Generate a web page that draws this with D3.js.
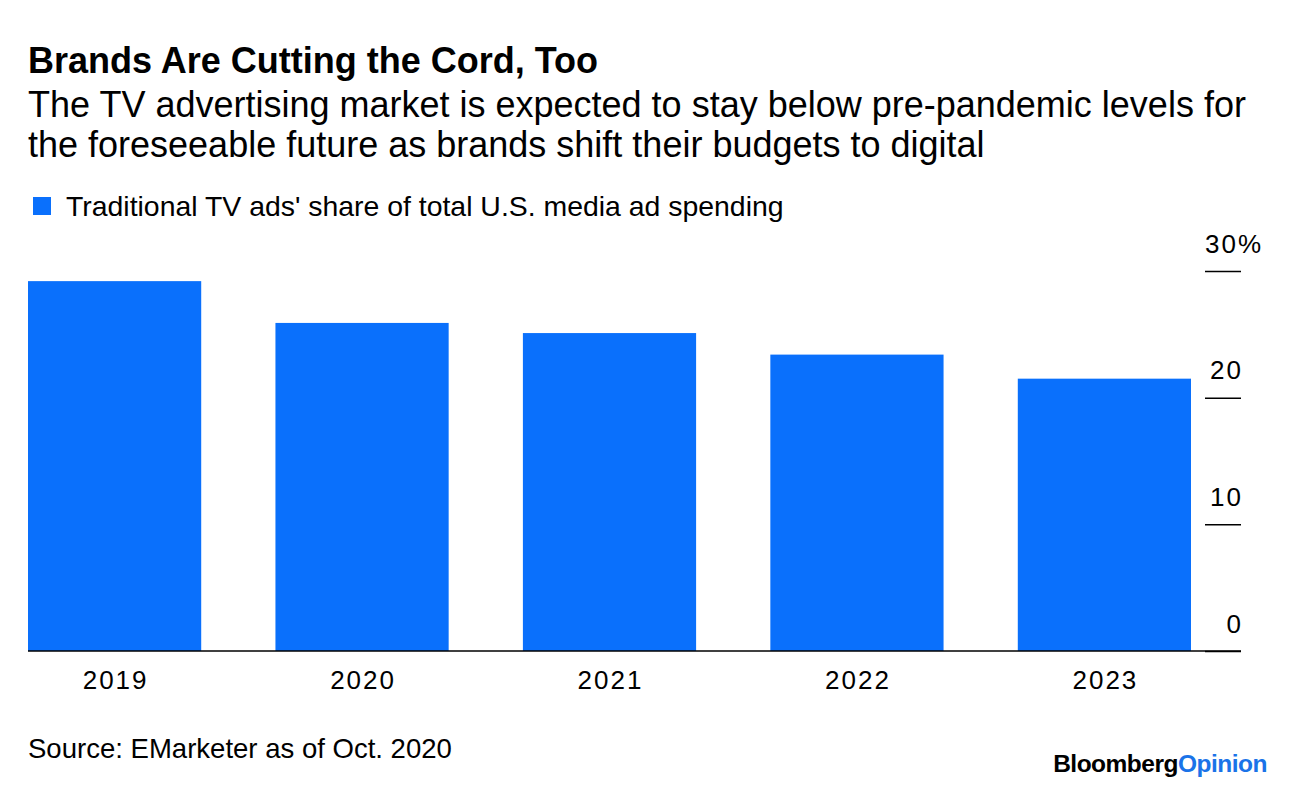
<!DOCTYPE html>
<html><head><meta charset="utf-8">
<script src="https://cdn.jsdelivr.net/npm/d3@7"></script>
<style>
html,body{margin:0;padding:0;background:#fff;}
svg{display:block;font-family:"Liberation Sans",Arial,Helvetica,sans-serif;}
</style></head>
<body><svg id="chart" width="1296" height="790"></svg>
<script>
const categories = ["2019","2020","2021","2022","2023"];
const values = [29.2, 25.9, 25.1, 23.4, 21.5];
const yTicks = [0, 10, 20, 30];
const titleText = "Brands Are Cutting the Cord, Too";
const subtitleLines = ["The TV advertising market is expected to stay below pre-pandemic levels for",
                       "the foreseeable future as brands shift their budgets to digital"];
const legendText = "Traditional TV ads' share of total U.S. media ad spending";
const sourceText = "Source: EMarketer as of Oct. 2020";

const blue = "#0a70fc";
const svg = d3.select("#chart");

function fitText(sel, w){
  const n = sel.node(); const l = n.getComputedTextLength();
  const fs = parseFloat(sel.attr("font-size"));
  sel.attr("font-size", (fs * w / l).toFixed(2));
}

const t = svg.append("text").attr("x",28).attr("y",73).attr("font-size",30).attr("font-weight","bold").attr("fill","#000").text(titleText);
fitText(t, 570);
const sub = subtitleLines.map((s,i)=> svg.append("text").attr("x",28).attr("y",117+i*40).attr("font-size",30).attr("fill","#000").text(s));
fitText(sub[0], 1218);
sub[1].attr("font-size", sub[0].attr("font-size"));

// legend
svg.append("rect").attr("x",33).attr("y",197).attr("width",18).attr("height",18).attr("fill",blue);
const lg = svg.append("text").attr("x",66).attr("y",216).attr("font-size",25).attr("fill","#000").text(legendText);
fitText(lg, 718);

const x = d3.scaleBand().domain(categories).range([28,1191]).paddingInner(0.3).paddingOuter(0);
const y = d3.scaleLinear().domain([0,30]).range([651,271]);

svg.append("g").selectAll("rect").data(values).join("rect")
  .attr("x",(d,i)=>x(categories[i])).attr("width",x.bandwidth())
  .attr("y",d=>y(d)).attr("height",d=>y(0)-y(d)).attr("fill",blue);

// right axis
const ya = svg.append("g").attr("transform","translate(1241,0)")
  .call(d3.axisLeft(y).tickValues(yTicks).tickSize(36).tickFormat(d=>d));
ya.select(".domain").remove();
ya.selectAll(".tick line").attr("stroke","#000").attr("stroke-width",1.5);
ya.selectAll(".tick text").attr("x",2).attr("dy",0).attr("y",-19)
  .attr("text-anchor","end").attr("font-size",26).attr("letter-spacing",2).attr("fill","#000")
  .attr("font-family",null);
ya.selectAll(".tick text").filter(d=>d===30).append("tspan").text("%");
ya.selectAll(".tick text").filter(d=>d===30).attr("text-anchor","start").attr("x",-36);

// baseline
svg.append("line").attr("x1",28).attr("x2",1241).attr("y1",y(0)).attr("y2",y(0)).attr("stroke","#000").attr("stroke-width",1.5);

// x axis labels
const xa = svg.append("g").attr("transform",`translate(0,${y(0)})`)
  .call(d3.axisBottom(x).tickSize(0).tickPadding(0));
xa.select(".domain").remove();
xa.selectAll(".tick text").attr("dy",0).attr("y",38).attr("dx",1).attr("font-size",26).attr("letter-spacing",2).attr("fill","#000").attr("font-family",null);

// source
const src = svg.append("text").attr("x",28).attr("y",758).attr("font-size",24).attr("fill","#000").text(sourceText);
fitText(src, 424);

// logo
const logo = svg.append("text").attr("x",1267).attr("y",772).attr("text-anchor","end").attr("font-size",24.5).attr("font-weight","bold").attr("letter-spacing",-0.5);
logo.append("tspan").attr("fill","#000").text("Bloomberg");
logo.append("tspan").attr("fill","#1a73e8").text("Opinion");
</script></body></html>
